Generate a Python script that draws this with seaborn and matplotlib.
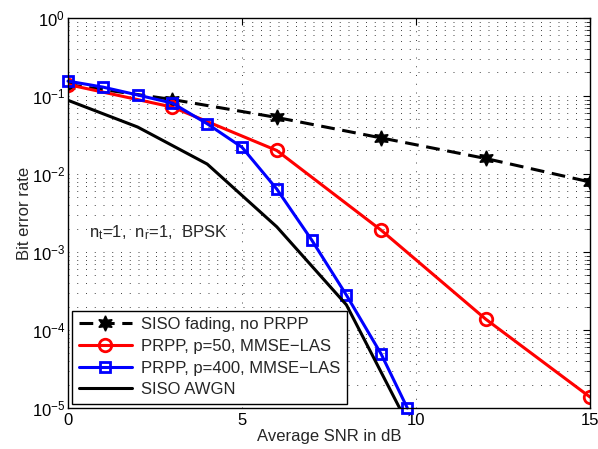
import numpy as np
import pandas as pd
import seaborn as sns
import matplotlib.pyplot as plt
from matplotlib.ticker import LogLocator, NullLocator, FixedLocator

# values
snr_fading = [0, 3, 6, 9, 12, 15]
ber_fading = [0.14, 0.09, 0.053, 0.029, 0.0158, 0.0079]

snr_p50 = [0, 3, 6, 9, 12, 15]
ber_p50 = [0.14, 0.072, 0.020, 0.0019, 1.38e-4, 1.38e-5]

snr_p400 = [0, 1, 2, 3, 4, 5, 6, 7, 8, 9, 9.75]
ber_p400 = [0.155, 0.130, 0.103, 0.081, 0.044, 0.022, 0.0064, 0.00143, 2.8e-4, 4.9e-5, 1.0e-5]

snr_awgn = [0, 2, 4, 6, 8, 10]
ber_awgn = [0.088, 0.040, 0.0134, 0.0021, 2.1e-4, 3.9e-6]

sns.set_style("white")
plt.rcParams['font.family'] = ['Liberation Sans', 'DejaVu Sans']
plt.rcParams['mathtext.fontset'] = 'custom'
plt.rcParams['mathtext.rm'] = 'Liberation Sans'
plt.rcParams['mathtext.it'] = 'Liberation Sans'

fig = plt.figure(figsize=(5.98, 4.49), dpi=100)
ax = fig.add_axes([0.1137, 0.0913, 0.873, 0.8687])

sns.lineplot(x=snr_fading, y=ber_fading, ax=ax, color='k', lw=2.2,
             linestyle=(0, (4.5, 2.5)), marker=(6, 1, 0), markersize=11,
             markerfacecolor='k', markeredgecolor='k', markeredgewidth=1,
             label='SISO fading, no PRPP', sort=False)
sns.lineplot(x=snr_p50, y=ber_p50, ax=ax, color='r', lw=2.2, marker='o',
             markersize=9, markerfacecolor='none', markeredgecolor='r',
             markeredgewidth=2, label='PRPP, p=50, MMSE\u2212LAS', sort=False)
sns.lineplot(x=snr_p400, y=ber_p400, ax=ax, color='b', lw=2.2, marker='s',
             markersize=7.5, markerfacecolor='none', markeredgecolor='b',
             markeredgewidth=2, label='PRPP, p=400, MMSE\u2212LAS', sort=False,
             clip_on=False)
sns.lineplot(x=snr_awgn, y=ber_awgn, ax=ax, color='k', lw=2.2,
             label='SISO AWGN', sort=False)

ax.set_yscale('log')
ax.set_xlim(0, 15)
ax.set_ylim(1e-5, 1)
ax.xaxis.set_major_locator(FixedLocator([0, 5, 10, 15]))
ax.xaxis.set_minor_locator(NullLocator())
ax.yaxis.set_major_locator(LogLocator(base=10, numticks=10))
ax.yaxis.set_minor_locator(LogLocator(base=10, subs=np.arange(2, 10), numticks=20))
ax.yaxis.set_minor_formatter(plt.NullFormatter())

ax.grid(True, which='major', color='0.25', linestyle=(0, (1, 8)), lw=0.7)
ax.grid(True, which='minor', axis='y', color='0.25', linestyle=(0, (1, 8)), lw=0.7)
ax.tick_params(which='both', direction='in', top=True, right=True,
               labelsize=12, colors='k')
ax.tick_params(axis='y', pad=2)
ax.tick_params(which='major', length=5)
ax.tick_params(which='minor', length=3)
for s in ax.spines.values():
    s.set_color('k')
    s.set_linewidth(1)

ax.set_xlabel('Average SNR in dB', fontsize=12, labelpad=1)
ax.set_ylabel('Bit error rate', fontsize=12, labelpad=0)
ax.text(0.6, 1.75e-3, r'n$_t$=1,  n$_r$=1,  BPSK', fontsize=12, va='center')

leg = ax.legend(loc='lower left', fontsize=12, fancybox=False, framealpha=1,
                edgecolor='k', handlelength=3.2, borderpad=0.4,
                labelspacing=0.4, handletextpad=0.55, borderaxespad=0.25)
leg.get_frame().set_linewidth(1)

fig.savefig('out.png', dpi=100)
